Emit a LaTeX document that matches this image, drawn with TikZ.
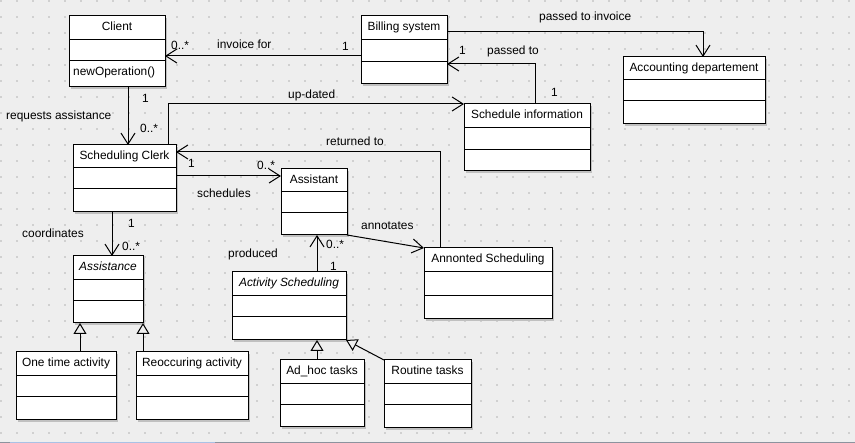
\documentclass[tikz,border=0pt]{standalone}
\usepackage{fontspec}
\setmainfont{Liberation Sans}
\usetikzlibrary{arrows.meta}
\definecolor{bgc}{HTML}{EEEEEE}
\definecolor{dotc}{HTML}{D0D0D0}
\definecolor{shadowc}{HTML}{C0C0C0}
\definecolor{barc}{HTML}{8C939E}
\definecolor{barblue}{HTML}{A9C1E5}
\tikzset{
  umlcls/.style={draw=black, fill=white, line width=1pt, inner sep=0pt, outer sep=0pt, rectangle},
  umlrow/.style={draw=black, line width=1pt},
  umltitle/.style={inner sep=0pt, text height=8pt, text depth=2.5pt},
  lbl/.style={inner sep=0pt, anchor=base west},
  assoc/.style={draw=black, line width=1pt},
  opena/.style={-{Straight Barb[length=11pt,width=14pt]}},
  gen/.style={-{Triangle[open,length=11pt,width=13pt]}},
}
% name, x1, y1, x2, y2, row1, row2, title
\newcommand\umlbox[8]{%
  \fill[shadowc] ({#2+1.8},{#3+1.8}) rectangle ({#4+1.8},{#5+1.8});
  \node[umlcls, anchor=north west, minimum width={#4-#2}, minimum height={#5-#3}] (#1) at (#2,#3) {};
  \draw[umlrow] (#2,#6) -- (#4,#6) (#2,#7) -- (#4,#7);
  \node[umltitle] (#1-t) at ({(#2+#4)/2},{(#3+#6)/2}) {#8};
}
\begin{document}
\begin{tikzpicture}[x=1pt, y=-1pt, font=\fontsize{11.9}{14}\selectfont]
\useasboundingbox (0,0) rectangle (855,443);
\fill[bgc] (0,0) rectangle (855,443);
\foreach \i in {0,...,53}{
  \foreach \j in {0,...,27}{
    \fill[dotc] ({1+16*\i-0.75},{1+16*\j-0.75}) rectangle ++(1.5,1.5);
  }
}
\draw[barc, line width=1.2pt] (0,442.4) -- (855,442.4);
\draw[barblue, line width=1.2pt] (10,442.4) -- (215,442.4);

% classes
\umlbox{client}{69}{16}{165}{87}{40}{61}{Client}
\node[inner sep=0pt, anchor=base west] (client-op) at ([xshift=4pt,yshift=11pt]client.south west) {newOperation()};
\umlbox{billing}{361}{16}{447}{84}{40}{62}{Billing system}
\umlbox{acc}{623}{57}{765}{124}{80}{101}{Accounting departement}
\umlbox{sched}{464}{104}{590}{171}{128}{150}{Schedule information}
\umlbox{clerk}{73}{145}{176}{212}{168}{189}{Scheduling Clerk}
\umlbox{assistant}{281}{169}{347}{235}{192}{213}{Assistant}
\umlbox{assistance}{73}{256}{143}{323}{280}{301}{\itshape Assistance}
\umlbox{actsch}{232}{272}{346}{340}{296}{317}{\itshape Activity Scheduling}
\umlbox{annot}{424}{248}{552}{319}{272}{296}{Annonted Scheduling}
\umlbox{onetime}{16}{352}{116}{420}{376}{397}{One time activity}
\umlbox{reocc}{136}{352}{248}{420}{376}{397}{Reoccuring activity}
\umlbox{adhoc}{280}{360}{364}{427}{384}{405}{Ad\_hoc tasks}
\umlbox{routine}{384}{360}{471}{428}{384}{405}{Routine tasks}

% associations
\draw[assoc, opena] ([yshift=-40pt]billing.north west) -- ([yshift=-40pt]client.north east);
\draw[assoc, opena] ([xshift=59pt]client.south west) -- ([xshift=55pt]clerk.north west);
\draw[assoc, opena] ([xshift=95pt]clerk.north west) |- (sched.north west);
\draw[assoc, opena] ([xshift=16pt]annot.north west) |- ([yshift=-7pt]clerk.north east);
\draw[assoc, opena] ([yshift=-31pt]clerk.north east) -- ([yshift=-7pt]assistant.north west);
\draw[assoc, opena] ([xshift=39pt]clerk.south west) -- ([xshift=39pt]assistance.north west);
\draw[assoc, opena] ([xshift=85pt]actsch.north west) -- ([xshift=36pt]assistant.south west);
\draw[assoc, opena] (assistant.south east) -- (annot.north west);
\draw[assoc, opena] ([yshift=-16pt]billing.north east) -| ([xshift=80pt]acc.north west);
\draw[assoc, opena] ([xshift=71pt]sched.north west) |- ([yshift=-48pt]billing.north east);

% generalizations
\draw[assoc, gen] ([xshift=64pt]onetime.north west) -- ([xshift=7pt]assistance.south west);
\draw[assoc, gen] ([xshift=7pt]reocc.north west) -- (assistance.south east);
\draw[assoc, gen] ([xshift=37pt]adhoc.north west) -- ([xshift=85pt]actsch.south west);
\draw[assoc, gen] (routine.north west) -- (actsch.south east);

% labels
\node[lbl] (l1) at (171,50) {0..*};
\node[lbl] (l2) at (217,49) {invoice for};
\node[lbl] (l3) at (342,51) {1};
\node[lbl] (l4) at (142,103) {1};
\node[lbl] (l5) at (140,133) {0..*};
\node[lbl] (l6) at (6,120) {requests assistance};
\node[lbl] (l7) at (288,99) {up-dated};
\node[lbl] (l8) at (326,146) {returned to};
\node[lbl] (l9) at (188,168) {1};
\node[lbl] (l10) at (257,170) {0..*};
\node[lbl] (l11) at (197,198) {schedules};
\node[lbl] (l12) at (22,238) {coordinates};
\node[lbl] (l13) at (128,228) {1};
\node[lbl] (l14) at (122,251) {0..*};
\node[lbl] (l15) at (228,258) {produced};
\node[lbl] (l16) at (326,249) {0..*};
\node[lbl] (l17) at (330,271) {1};
\node[lbl] (l18) at (361,230) {annotates};
\node[lbl] (l19) at (539,21) {passed to invoice};
\node[lbl] (l20) at (459,55) {1};
\node[lbl] (l21) at (487,55) {passed to};
\node[lbl] (l22) at (551,97) {1};
\end{tikzpicture}
\end{document}
